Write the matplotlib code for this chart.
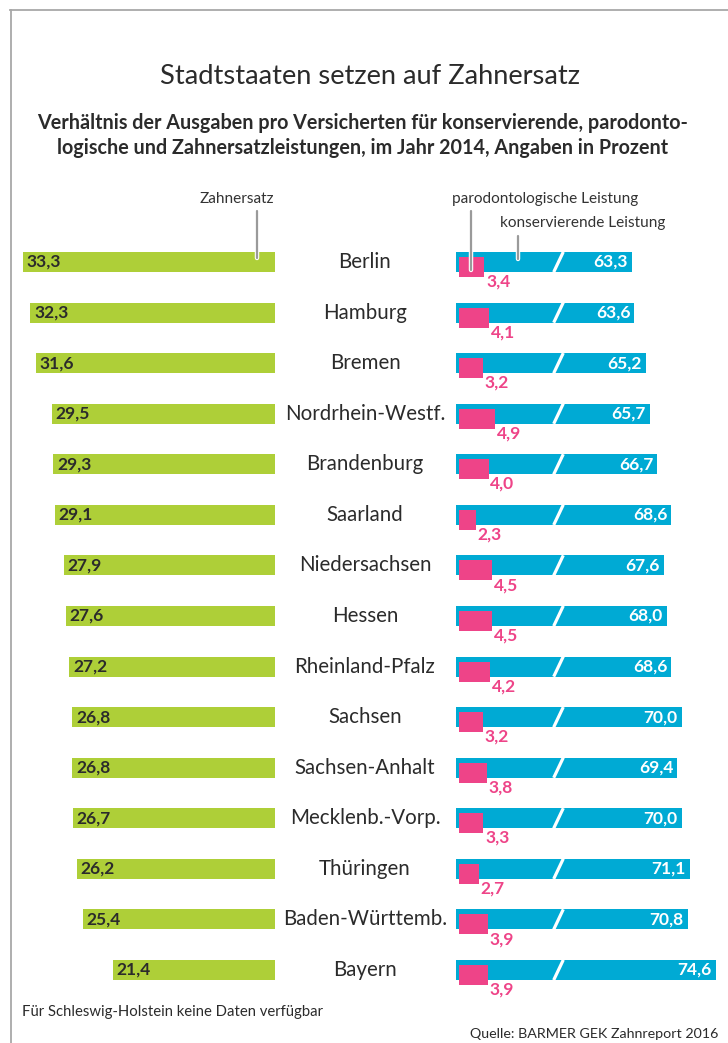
import numpy as np
import matplotlib.pyplot as plt
import matplotlib.patheffects as pe
from matplotlib.transforms import blended_transform_factory
from matplotlib.lines import Line2D

# Daten (Angaben in Prozent)
laender = ["Berlin", "Hamburg", "Bremen", "Nordrhein-Westf.", "Brandenburg",
           "Saarland", "Niedersachsen", "Hessen", "Rheinland-Pfalz", "Sachsen",
           "Sachsen-Anhalt", "Mecklenb.-Vorp.", "Thüringen", "Baden-Württemb.",
           "Bayern"]
zahnersatz = [33.3, 32.3, 31.6, 29.5, 29.3, 29.1, 27.9, 27.6, 27.2, 26.8,
              26.8, 26.7, 26.2, 25.4, 21.4]
konservierend = [63.3, 63.6, 65.2, 65.7, 66.7, 68.6, 67.6, 68.0, 68.6, 70.0,
                 69.4, 70.0, 71.1, 70.8, 74.6]
parodontologisch = [3.4, 4.1, 3.2, 4.9, 4.0, 2.3, 4.5, 4.5, 4.2, 3.2,
                    3.8, 3.3, 2.7, 3.9, 3.9]

GRUEN = "#aecf38"
BLAU = "#00aad4"
PINK = "#ee4488"
DUNKEL = "#2b2b2b"
FONT = "Lato"

W, H = 728, 1043
ROW0, ROWH = 262, 50.57      # Pixel der ersten Zeile, Zeilenabstand
BREAK = 39.5                 # Achsenbruch für die blauen Balken

plt.rcParams['font.family'] = [FONT, 'DejaVu Sans']

fig = plt.figure(figsize=(W / 100, H / 100), dpi=100)
fig.patch.set_facecolor("white")

y = np.arange(len(laender))
ylim = ((H - ROW0) / ROWH, -ROW0 / ROWH)

# linke Achse: Zahnersatz (nach links)
ax_l = fig.add_axes([0, 0, 275 / W, 1])
ax_l.set_xlim(275 / 7.57, 0)
ax_l.set_ylim(*ylim)
ax_l.barh(y, zahnersatz, height=0.395, color=GRUEN)
for yi, v in zip(y, zahnersatz):
    ax_l.text(v - 0.5, yi, f"{v:.1f}".replace(".", ","), ha="left", va="center",
              fontsize=12.5, fontweight="bold", color=DUNKEL)
ax_l.axis("off")

# rechte Achse: konservierend + parodontologisch
ax_r = fig.add_axes([456 / W, 0, (W - 456) / W, 1])
ax_r.set_xlim(0, (W - 456) / 7.4)
ax_r.set_ylim(*ylim)
blau = [v - BREAK for v in konservierend]
ax_r.barh(y, blau, height=0.395, color=BLAU)
for yi, v, b in zip(y, konservierend, blau):
    ax_r.plot([13.2, 14.5], [yi + 0.2, yi - 0.2], color="white", lw=2.3,
              solid_capstyle="butt")
    ax_r.text(b - 0.55, yi, f"{v:.1f}".replace(".", ","), ha="right", va="center",
              fontsize=12.5, fontweight="bold", color="white")
ax_r.barh(y + 0.1, parodontologisch, left=0.4, height=0.395, color=PINK)
for yi, v in zip(y, parodontologisch):
    ax_r.text(0.4 + v + 0.25, yi + 0.39, f"{v:.1f}".replace(".", ","), ha="left",
              va="center", fontsize=12.5, fontweight="bold", color=PINK)
ax_r.axis("off")

# Ländernamen in der Mitte
tr = blended_transform_factory(fig.transFigure, ax_r.transData)
for yi, name in zip(y, laender):
    ax_r.text(365 / W, yi, name, transform=tr, ha="center", va="center",
              fontsize=14.8, color=DUNKEL, clip_on=False)

# Beschriftungen mit Hinweislinien
linie = dict(color="#9a9a9a", lw=1.6, solid_capstyle="round",
             path_effects=[pe.Stroke(linewidth=3.2, foreground="white"), pe.Normal()])
ax_l.plot([(275 - 257) / 7.57] * 2, [(211 - ROW0) / ROWH, (258 - ROW0) / ROWH], **linie)
ax_r.plot([(471 - 456) / 7.4] * 2, [(211 - ROW0) / ROWH, (270 - ROW0) / ROWH], **linie)
ax_r.plot([(518 - 456) / 7.4] * 2, [(236 - ROW0) / ROWH, (259 - ROW0) / ROWH], **linie)

fig.text(237 / W, 1 - 199 / H, "Zahnersatz", ha="center", va="center",
         fontsize=11.1, color="#333333")
fig.text(452 / W, 1 - 199 / H, "parodontologische Leistung", ha="left", va="center",
         fontsize=11.1, color="#333333")
fig.text(500 / W, 1 - 223 / H, "konservierende Leistung", ha="left", va="center",
         fontsize=11.1, color="#333333")

# Titel
fig.text(370 / W, 1 - 76 / H, "Stadtstaaten setzen auf Zahnersatz", ha="center",
         va="center", fontsize=19.6, color=DUNKEL)
fig.text(363 / W, 1 - 123 / H,
         "Verhältnis der Ausgaben pro Versicherten für konservierende, parodonto-",
         ha="center", va="center", fontsize=14.2, fontweight="bold", color=DUNKEL)
fig.text(363 / W, 1 - 148 / H,
         "logische und Zahnersatzleistungen, im Jahr 2014, Angaben in Prozent",
         ha="center", va="center", fontsize=14.2, fontweight="bold", color=DUNKEL)

# Fußnoten
fig.text(22 / W, 1 - 1012 / H, "Für Schleswig-Holstein keine Daten verfügbar",
         ha="left", va="center", fontsize=10.7, color=DUNKEL)
fig.text(470 / W, 1 - 1034 / H, "Quelle: BARMER GEK Zahnreport 2016",
         ha="left", va="center", fontsize=10.3, color=DUNKEL)

# Rahmen
fig.add_artist(Line2D([10 / W, 1], [1 - 9.5 / H] * 2, color="#a8a8a8", lw=1.3))
fig.add_artist(Line2D([10.5 / W] * 2, [0, 1 - 9.5 / H], color="#a8a8a8", lw=1.3))

fig.savefig("out.png", dpi=100)
